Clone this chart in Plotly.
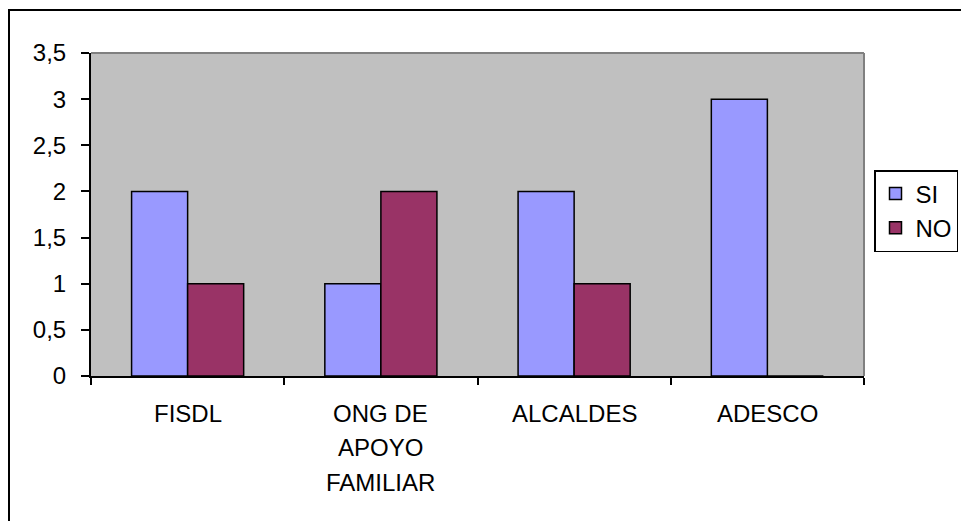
import plotly.graph_objects as go

categories = ["FISDL", "ONG DE<br>APOYO<br>FAMILIAR", "ALCALDES", "ADESCO"]
si_values = [2, 1, 2, 3]
no_values = [1, 2, 1, 0]
y_ticks = [0, 0.5, 1, 1.5, 2, 2.5, 3, 3.5]

FONT = "Liberation Sans, Arial, sans-serif"
FS = 24
W, H = 961, 521
L, R, T, B = 91, 97, 53, 145
pw, ph = W - L - R, H - T - B

fig = go.Figure()
fig.add_trace(go.Bar(x=categories, y=si_values, name="SI",
                     marker=dict(color="#9999FF", line=dict(color="black", width=1.5))))
fig.add_trace(go.Bar(x=categories, y=no_values, name="NO",
                     marker=dict(color="#993366", line=dict(color="black", width=1.5))))

# category labels as multi-line annotations (wider line spacing like the reference)
annotations = []
for cat in categories:
    for i, line in enumerate(cat.split("<br>")):
        annotations.append(dict(x=cat, xref="x", y=0, yref="paper", yanchor="middle",
                                text=line, showarrow=False, yshift=-37 - 34.5 * i,
                                font=dict(family=FONT, size=FS, color="black")))

def px_x(p):
    return (p - L) / pw

def px_y(p):
    return (H - B - p) / ph

shapes = [
    dict(type="line", xref="paper", yref="paper", x0=0, x1=1, y0=1, y1=1,
         line=dict(color="#808080", width=2)),
    dict(type="line", xref="paper", yref="paper", x0=1, x1=1, y0=0, y1=1,
         line=dict(color="#808080", width=2)),
    dict(type="rect", xref="paper", yref="paper", x0=px_x(9), x1=px_x(975),
         y0=px_y(535), y1=px_y(10), line=dict(color="black", width=2), layer="below"),
]

fig.update_layout(
    width=W, height=H,
    margin=dict(l=L, r=R, t=T, b=B, autoexpand=False),
    paper_bgcolor="white", plot_bgcolor="#C0C0C0",
    barmode="group", bargap=0.42, bargroupgap=0,
    separators=", ",
    font=dict(family=FONT, size=FS, color="black"),
    xaxis=dict(showticklabels=False, tickson="boundaries", ticks="outside", ticklen=7,
               tickwidth=1.5, tickcolor="black", showline=True, linecolor="black",
               linewidth=2, showgrid=False, zeroline=False),
    yaxis=dict(range=[0, 3.5], tickvals=y_ticks, ticks="outside", ticklen=8,
               tickwidth=1.5, tickcolor="black", showline=True, linecolor="black",
               linewidth=2, showgrid=False, zeroline=False, ticklabelstandoff=10,
               tickfont=dict(family=FONT, size=FS, color="black")),
    legend=dict(x=px_x(874), y=px_y(170), xanchor="left", yanchor="top",
                bordercolor="black", borderwidth=1.5, bgcolor="white",
                font=dict(family=FONT, size=FS, color="black"),
                itemwidth=30, tracegroupgap=0),
    annotations=annotations,
    shapes=shapes,
    showlegend=True,
)

fig.write_html("out.html", config={"displayModeBar": False},
               post_script="document.body.style.margin='0';")
